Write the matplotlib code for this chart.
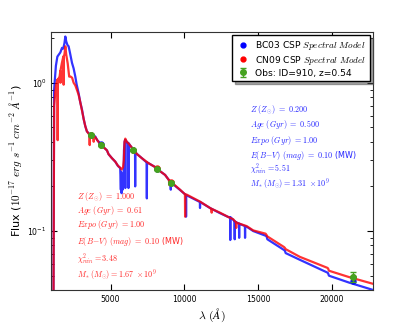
import matplotlib
matplotlib.use("Agg")
import matplotlib.pyplot as plt
import numpy as np

plt.rcParams['mathtext.fontset'] = 'cm'
plt.rcParams['font.family'] = ['DejaVu Sans']

# ---- data ----
bc03_wave = [1130, 1180, 1300, 1400, 1500, 1600, 1716, 1800, 1880, 1940, 2000, 2080, 2162,
             2250, 2392, 2500, 2615, 2700, 2838, 2950, 3067, 3180, 3290, 3400, 3513, 3650,
             3800, 3966, 4100, 4304, 4500, 4757, 4865, 5095, 5318, 5500, 5655, 5700, 5720,
             5750, 5780, 5820, 5850, 5880, 5910, 5950, 5990, 6000, 6010, 6100, 6205, 6216,
             6227, 6400, 6554, 6660, 6669, 6678, 6800, 7122, 7450, 7460, 7470, 7568, 8135,
             8360, 8696, 9070, 9080, 9090, 9710, 10105, 10115, 10125, 10162, 11050, 11060,
             11070, 11737, 12412, 13000, 13100, 13110, 13120, 13311, 13400, 13410, 13420,
             13700, 13710, 13720, 14100, 14110, 14120, 14217, 14663, 15500, 15568, 15620,
             16750, 16805, 16860, 17818, 19680, 19730, 19790, 21130, 22800]
bc03_flux = [0.02, 0.90, 1.30, 1.50, 1.55, 1.60, 1.72, 1.70, 1.85, 2.05, 1.90, 1.80, 1.76,
             1.60, 1.36, 1.25, 1.10, 0.98, 0.85, 0.74, 0.66, 0.57, 0.51, 0.47, 0.457, 0.44,
             0.445, 0.434, 0.41, 0.39, 0.37, 0.35, 0.33, 0.31, 0.294, 0.275, 0.266, 0.19,
             0.25, 0.18, 0.24, 0.19, 0.24, 0.20, 0.35, 0.40, 0.412, 0.195, 0.41, 0.40, 0.391,
             0.195, 0.39, 0.37, 0.353, 0.34, 0.20, 0.34, 0.33, 0.31, 0.29, 0.166, 0.29, 0.287,
             0.266, 0.253, 0.239, 0.213, 0.19, 0.213, 0.189, 0.175, 0.125, 0.175, 0.174, 0.157,
             0.143, 0.157, 0.143, 0.132, 0.124, 0.124, 0.087, 0.124, 0.119, 0.116, 0.088,
             0.116, 0.112, 0.09, 0.112, 0.108, 0.09, 0.108, 0.107, 0.100, 0.093, 0.092,
             0.088, 0.0745, 0.0737, 0.071, 0.064, 0.0525, 0.052, 0.050, 0.045, 0.040]

cn09_wave = [1130, 1180, 1300, 1400, 1420, 1440, 1550, 1600, 1610, 1620, 1700, 1800, 1825,
             1840, 1880, 1940, 2000, 2100, 2200, 2300, 2400, 2500, 2615, 2750, 2838, 2950,
             3067, 3180, 3290, 3400, 3513, 3580, 3590, 3600, 3700, 3850, 3860, 3870, 3966,
             4100, 4304, 4500, 4757, 4865, 5095, 5318, 5500, 5655, 5750, 5850, 5900, 5950,
             6000, 6100, 6216, 6400, 6554, 6800, 7122, 7568, 8135, 8360, 8696, 8960, 8970,
             8980, 9080, 9710, 10040, 10050, 10060, 10162, 11061, 11840, 11850, 11860, 12412,
             13000, 13311, 13500, 13510, 13520, 14217, 14663, 15500, 15568, 15620, 16750,
             16805, 16860, 17818, 19680, 19730, 19790, 21130, 22800]
cn09_flux = [0.02, 0.70, 0.95, 1.05, 0.41, 1.05, 1.10, 1.20, 1.00, 1.22, 1.35, 1.50, 0.97,
             1.52, 1.55, 1.76, 1.55, 1.35, 1.10, 1.10, 1.08, 1.00, 0.96, 0.88, 0.83, 0.74,
             0.65, 0.57, 0.51, 0.47, 0.455, 0.44, 0.38, 0.44, 0.44, 0.435, 0.40, 0.435, 0.43,
             0.41, 0.385, 0.37, 0.35, 0.33, 0.31, 0.294, 0.276, 0.267, 0.26, 0.27, 0.30, 0.40,
             0.42, 0.40, 0.39, 0.37, 0.352, 0.33, 0.31, 0.287, 0.266, 0.253, 0.239, 0.22,
             0.205, 0.22, 0.215, 0.19, 0.177, 0.125, 0.177, 0.176, 0.158, 0.141, 0.133, 0.141,
             0.133, 0.124, 0.12, 0.114, 0.105, 0.114, 0.108, 0.101, 0.096, 0.094, 0.092,
             0.078, 0.077, 0.0755, 0.067, 0.0565, 0.056, 0.054, 0.049, 0.044]

obs_wave = [3676, 4372, 6554, 8176, 9081, 21420]
obs_flux = [0.443, 0.381, 0.352, 0.262, 0.212, 0.049]
obs_err = [0.008, 0.006, 0.006, 0.005, 0.004, 0.004]
bc03_phot = [0.445, 0.385, 0.352, 0.264, 0.212, 0.046]
cn09_phot = [0.443, 0.383, 0.352, 0.265, 0.214, 0.049]

blue_text = [r'$Z\ (Z_{\odot})\ =\ 0.200$', r'$Age\ (Gyr)\ =\ 0.500$',
             r'$Expo\ (Gyr)\ =1.00$', r'$E(B\!-\!V)\ (mag)\ =\ 0.10$ (MW)',
             r'$\chi^2_{min}=5.51$', r'$M_*(M_{\odot})=1.31\ \times 10^9$']
red_text = [r'$Z\ (Z_{\odot})\ =\ 1.000$', r'$Age\ (Gyr)\ =\ 0.61$',
            r'$Expo\ (Gyr)\ =1.00$', r'$E(B\!-\!V)\ (mag)\ =\ 0.10$ (MW)',
            r'$\chi^2_{min}=3.48$', r'$M_*(M_{\odot})=1.67\ \times 10^9$']

# ---- figure ----
fig = plt.figure(figsize=(4.15, 3.23), dpi=100)
ax = fig.add_axes([0.124, 0.102, 0.775, 0.799])

ax.plot(bc03_wave, bc03_flux, color='blue', lw=1.6, alpha=0.8)
ax.plot(cn09_wave, cn09_flux, color='red', lw=1.6, alpha=0.8)

ax.plot(obs_wave, bc03_phot, 'o', color='blue', ms=3.5, mec='blue', label=r'BC03 CSP $Spectral\ Model$')
ax.plot(obs_wave, cn09_phot, 'o', color='red', ms=3.5, mec='red', label=r'CN09 CSP $Spectral\ Model$')
ax.errorbar(obs_wave, obs_flux, yerr=obs_err, fmt='o', color='#45a31f', mec='#45a31f',
            ms=4, capsize=2, elinewidth=1, label='Obs: ID=910, z=0.54')

ax.set_yscale('log')
ax.set_xlim(1000, 22780)
ax.set_ylim(0.04, 2.2)
ax.set_xticks([5000, 10000, 15000, 20000])

ax.tick_params(which='both', direction='in', top=True, right=True, labelsize=5.6)
ax.tick_params(which='major', length=4)
ax.tick_params(which='minor', length=2)
for s in ax.spines.values():
    s.set_color('#333333')

ax.set_xlabel(r'$\lambda\ (\AA)$', fontsize=8.5, labelpad=2)
ax.set_ylabel(r'Flux ($10^{-17}\ erg\ s^{-1}\ cm^{-2}\ \AA^{-1}$)', fontsize=8, labelpad=2)

leg = ax.legend(loc='upper right', fontsize=6.6, numpoints=1, shadow=True, fancybox=False,
                borderaxespad=0.35, handletextpad=0.5, labelspacing=0.2, handlelength=1.6,
                borderpad=0.4)
leg.get_frame().set_edgecolor('black')

blue_y = [0.698, 0.640, 0.581, 0.523, 0.469, 0.411]
red_y = [0.362, 0.310, 0.255, 0.187, 0.120, 0.061]
for t, y in zip(blue_text, blue_y):
    ax.text(0.618, y, t, transform=ax.transAxes, color='blue', fontsize=5.8, va='center', alpha=0.85)
for t, y in zip(red_text, red_y):
    ax.text(0.080, y, t, transform=ax.transAxes, color='red', fontsize=5.8, va='center', alpha=0.85)

fig.savefig('out.png', dpi=100)
